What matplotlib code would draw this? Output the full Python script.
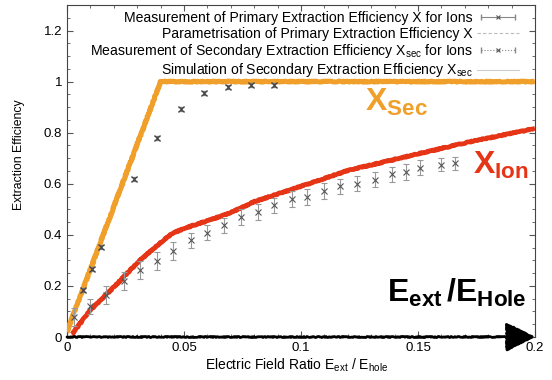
import matplotlib
matplotlib.use("Agg")
import matplotlib.pyplot as plt
from matplotlib.lines import Line2D
from matplotlib.legend_handler import HandlerLine2D, HandlerTuple
from matplotlib.ticker import MultipleLocator, FormatStrFormatter

plt.rcParams['font.family'] = ['Liberation Sans', 'DejaVu Sans']
plt.rcParams['mathtext.fontset'] = 'custom'
plt.rcParams['mathtext.rm'] = 'Liberation Sans'
plt.rcParams['mathtext.it'] = 'Liberation Sans'
plt.rcParams['mathtext.bf'] = 'Liberation Sans:bold'

# Simulation of secondary extraction efficiency (orange)
sec_sim_x = [0.0, 0.040, 0.200]
sec_sim_y = [0.02, 1.0, 1.0]

# Parametrisation of primary extraction efficiency (red)
ion_par_x = [0.002, 0.01, 0.02, 0.03, 0.04, 0.045, 0.05, 0.06, 0.07, 0.08,
             0.10, 0.12, 0.15, 0.175, 0.20]
ion_par_y = [0.01, 0.105, 0.195, 0.29, 0.37, 0.405, 0.425, 0.455, 0.487, 0.53,
             0.59, 0.652, 0.717, 0.77, 0.816]

# Measurement of primary extraction efficiency (grey, error bars)
ion_meas_x = [0.003, 0.0097, 0.0168, 0.0243, 0.0314, 0.0385, 0.0455, 0.053,
              0.060, 0.067, 0.0744, 0.0816, 0.0885, 0.096, 0.1025, 0.110,
              0.1168, 0.124, 0.1315, 0.139, 0.145, 0.151, 0.160, 0.166]
ion_meas_y = [0.079, 0.12, 0.165, 0.22, 0.264, 0.298, 0.336, 0.379,
              0.409, 0.437, 0.47, 0.49, 0.516, 0.54, 0.548, 0.572,
              0.59, 0.60, 0.616, 0.637, 0.646, 0.663, 0.674, 0.68]
ion_meas_err = [0.035, 0.03, 0.035, 0.035, 0.035, 0.035, 0.035, 0.03,
                0.03, 0.03, 0.03, 0.03, 0.03, 0.03, 0.03, 0.03,
                0.03, 0.03, 0.03, 0.03, 0.03, 0.03, 0.025, 0.025]

# Measurement of secondary extraction efficiency
sec_meas_x = [0.0069, 0.0108, 0.0147, 0.0287, 0.0385, 0.0487, 0.0587,
              0.0687, 0.0787, 0.0885]
sec_meas_y = [0.184, 0.268, 0.353, 0.62, 0.78, 0.893, 0.954,
              0.978, 0.988, 0.988]
sec_meas_err = [0.008] * len(sec_meas_x)

labels = ["Measurement of Primary Extraction Efficiency X for Ions",
          "Parametrisation of Primary Extraction Efficiency X",
          r"Measurement of Secondary Extraction Efficiency X$_\mathrm{sec}$ for Ions",
          r"Simulation of Secondary Extraction Efficiency X$_\mathrm{sec}$"]

orange = '#f0a02a'
red = '#e63416'

fig = plt.figure(figsize=(5.52, 3.80), dpi=100)
ax = fig.add_axes([67/552, 43/380, 468/552, 332/380])

l1, = ax.plot(sec_sim_x, sec_sim_y, color=orange, lw=3.6, solid_capstyle='butt', zorder=3)
l2, = ax.plot(ion_par_x, ion_par_y, color=red, lw=3.4, solid_capstyle='butt', zorder=3)
for ln in (l1, l2):
    ln.set_sketch_params(scale=0.5, length=1.0, randomness=5)

ax.errorbar(ion_meas_x, ion_meas_y, yerr=ion_meas_err, fmt='x', color='#555555',
            ecolor='#999999', elinewidth=0.8, capsize=2.5, capthick=0.8, ms=4, mew=0.8, zorder=4)
ax.errorbar(sec_meas_x, sec_meas_y, yerr=sec_meas_err, fmt='x', color='#444444',
            ecolor='#777777', elinewidth=0.7, capsize=2, capthick=0.7, ms=4.5, mew=0.9, zorder=4)

# x-axis arrow
arr = ax.annotate('', xy=(0.2, 0), xytext=(0.0, 0), annotation_clip=False,
                  arrowprops=dict(arrowstyle='-|>,head_length=0.9,head_width=0.45',
                                  lw=2, color='black', mutation_scale=20, shrinkA=0, shrinkB=0))
arr.arrow_patch.set_sketch_params(scale=0.5, length=1.0, randomness=5)
arr.arrow_patch.set_zorder(5)

ax.text(0.1274, 0.887, r'$\mathbf{X}_\mathbf{Sec}$', color=orange, fontsize=23,
        ha='left', va='baseline')
ax.text(0.1735, 0.64, r'$\mathbf{X}_\mathbf{Ion}$', color=red, fontsize=23,
        ha='left', va='baseline')
ax.text(0.1368, 0.137, r'$\mathbf{E}_\mathbf{ext}\,\mathbf{/E}_\mathbf{Hole}$', color='black',
        fontsize=23, ha='left', va='baseline')

ax.set_xlim(0, 0.2)
ax.set_ylim(0, 1.3)
ax.xaxis.set_major_locator(MultipleLocator(0.05))
ax.xaxis.set_minor_locator(MultipleLocator(0.01))
ax.yaxis.set_major_locator(MultipleLocator(0.2))
ax.yaxis.set_minor_locator(MultipleLocator(0.05))
ax.xaxis.set_major_formatter(FormatStrFormatter('%g'))
ax.yaxis.set_major_formatter(FormatStrFormatter('%g'))
ax.tick_params(which='both', direction='in', top=True, right=True, labelsize=9.5,
               color='#555555')
ax.tick_params(which='major', length=4)
ax.tick_params(which='minor', length=2.5)
ax.set_yticks([0, 0.2, 0.4, 0.6, 0.8, 1.0, 1.2])
for sp in ax.spines.values():
    sp.set_color('#444444')
    sp.set_linewidth(0.8)

ax.set_xlabel(r"Electric Field Ratio E$_\mathrm{ext}$ / E$_\mathrm{hole}$", fontsize=10)
ax.set_ylabel("Extraction Efficiency", fontsize=8.8)
ax.xaxis.set_label_coords(0.49, -0.06)
ax.yaxis.set_label_coords(-0.09, 0.55)

# legend handles in gnuplot style
h1a = Line2D([], [], color='#888888', lw=0.8, marker='|', ms=5)
h1b = Line2D([], [], ls='none', color='#555555', marker='x', ms=3, mew=0.8)
h2 = Line2D([], [], color='#bbbbbb', lw=0.8, ls=(0, (3, 2)))
h3a = Line2D([], [], color='#888888', lw=0.8, ls=':', marker='|', ms=5)
h3b = Line2D([], [], ls='none', color='#555555', marker='x', ms=3, mew=0.8)
h4 = Line2D([], [], color='#cccccc', lw=0.8)
hmap = {h1a: HandlerLine2D(numpoints=2), h1b: HandlerLine2D(numpoints=1),
        h3a: HandlerLine2D(numpoints=2), h3b: HandlerLine2D(numpoints=1),
        tuple: HandlerTuple(ndivide=1)}
ax.legend([(h1a, h1b), h2, (h3a, h3b), h4], labels, handler_map=hmap,
          loc='upper right', bbox_to_anchor=(0.99, 1.015), frameon=False,
          markerfirst=False, fontsize=10.1, handlelength=3.0, handletextpad=0.3,
          labelspacing=0.1, borderpad=0.3)

fig.savefig('out.png', dpi=100)
